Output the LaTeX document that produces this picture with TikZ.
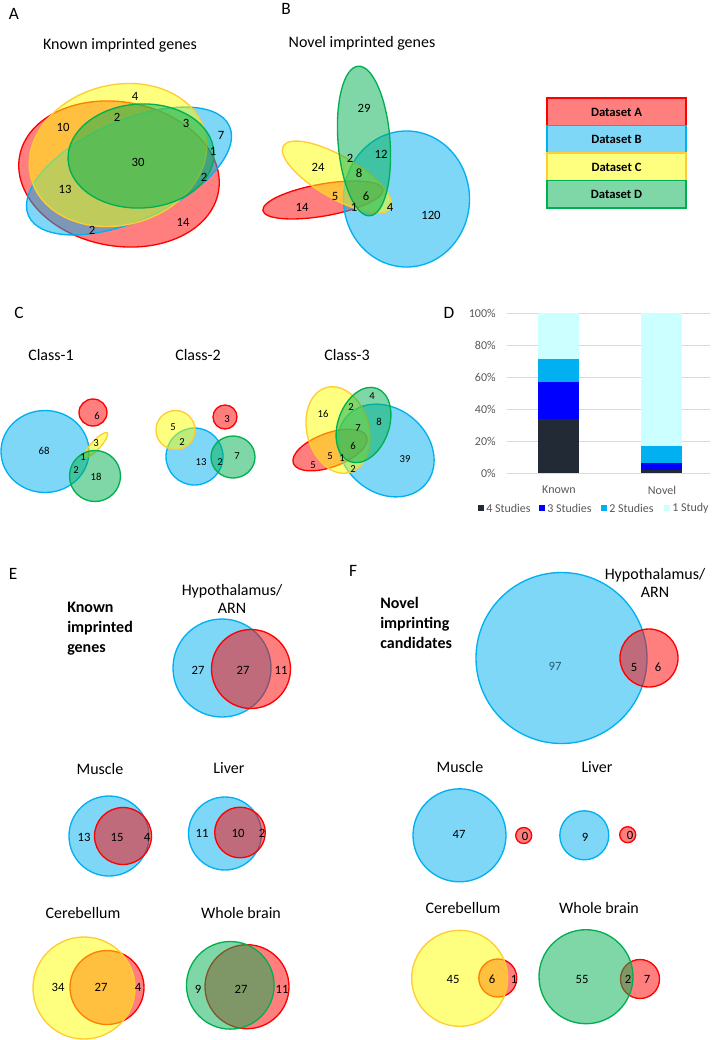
\documentclass[tikz,border=0pt]{standalone}
\usepackage{fontspec}
\setmainfont{Carlito}
\usepackage{tikz}

\definecolor{dsA}{RGB}{255,0,0}
\definecolor{dsB}{RGB}{0,176,240}
\definecolor{dsC}{RGB}{255,255,0}
\definecolor{dsCline}{RGB}{255,204,51}
\definecolor{dsD}{RGB}{0,176,80}
\definecolor{stud4}{RGB}{34,42,53}
\definecolor{stud3}{RGB}{0,0,255}
\definecolor{stud2}{RGB}{0,176,240}
\definecolor{stud1}{RGB}{204,255,255}
\definecolor{axisgray}{RGB}{89,89,89}
\definecolor{gridgray}{RGB}{217,217,217}
\definecolor{numteal}{RGB}{40,90,110}

\begin{document}
\begin{tikzpicture}[x=0.75pt,y=0.75pt,yscale=-1,xscale=1,
  setA/.style={draw=dsA,fill=dsA,fill opacity=0.5,line width=1pt},
  setB/.style={draw=dsB,fill=dsB,fill opacity=0.5,line width=1pt},
  setC/.style={draw=dsCline,fill=dsC,fill opacity=0.5,line width=1pt},
  setD/.style={draw=dsD,fill=dsD,fill opacity=0.5,line width=1pt},
  panel/.style={font=\fontsize{13}{15}\selectfont,inner sep=0pt},
  ttl/.style={font=\fontsize{12}{13.5}\selectfont,inner sep=0pt,align=center},
  bigttl/.style={font=\bfseries\fontsize{12}{15}\selectfont,inner sep=0pt,align=left,anchor=west},
  num/.style={font=\fontsize{9.5}{11}\selectfont,inner sep=0pt},
  smallnum/.style={font=\fontsize{8}{9}\selectfont,inner sep=0pt},
  legtxt/.style={font=\bfseries\fontsize{9.5}{11}\selectfont,inner sep=0pt},
  axtxt/.style={font=\fontsize{9}{10}\selectfont,text=axisgray,inner sep=0pt}
]
\useasboundingbox (0,0) rectangle (713,1040);
\fill[white] (0,0) rectangle (713,1040);

% Panel letters
\node[panel] (lblA) at (14,14) {A};
\node[panel] (lblB) at (286,9) {B};
\node[panel] (lblC) at (19,313) {C};
\node[panel] (lblD) at (449,313) {D};
\node[panel] (lblE) at (13,574) {E};
\node[panel] (lblF) at (353,571) {F};

%%% A: known imprinted genes
\node[ttl] (ttlA) at (120,45) {Known imprinted genes};
%Shape: Ellipse
\draw[setA, rotate around={10:(119,174)}] (119,174) ellipse [x radius=101, y radius=72];
\draw[setB, rotate around={-24:(129,171)}] (129,171) ellipse [x radius=110, y radius=50];
\draw[setC, rotate around={-15:(118,155)}] (118,155) ellipse [x radius=90, y radius=70];
\draw[setD, rotate around={-3:(141,156)}] (141,156) ellipse [x radius=73, y radius=52];
% Text Node
\node[num] (a4) at (135,96) {4};
\node[num] (a10) at (63,127) {10};
\node[num] (a2t) at (117,117) {2};
\node[num] (a3) at (186,123) {3};
\node[num] (a7) at (221,135) {7};
\node[num] (a1) at (213,151) {1};
\node[num] (a30) at (138,162) {30};
\node[num] (a2r) at (204,177) {2};
\node[num] (a13) at (65,189) {13};
\node[num] (a14) at (183,222) {14};
\node[num] (a2b) at (92,230) {2};

%%% B: novel imprinted genes
\node[ttl] (ttlB) at (362,43) {Novel imprinted genes};
%Shape: Ellipse
\draw[setA, rotate around={-10:(323,200)}] (323,200) ellipse [x radius=61, y radius=16];
\draw[setB] (406.5,199) ellipse [x radius=63, y radius=68];
\draw[setC, rotate around={30:(337,177)}] (337,177) ellipse [x radius=62, y radius=21];
\draw[setD, rotate around={-4.5:(364,141)}] (364,141) ellipse [x radius=26, y radius=75];
% Text Node
\node[num] (b29) at (364,108) {29};
\node[num] (b24) at (318,167) {24};
\node[num] (b2) at (350,158) {2};
\node[num] (b12) at (381,154) {12};
\node[num] (b8) at (359,173) {8};
\node[num] (b5) at (335,196) {5};
\node[num] (b6) at (366,196) {6};
\node[num] (b1) at (354,207) {1};
\node[num] (b14) at (302,207) {14};
\node[num] (b4) at (390,207) {4};
\node[num] (b120) at (431,215) {120};

% legend boxes
\draw[setA] (547,98) rectangle (686,125.5);
\draw[setB] (547,125.5) rectangle (686,153);
\draw[setC] (547,153) rectangle (686,180.5);
\draw[setD] (547,180.5) rectangle (686,208);
\node[legtxt] (legA) at (616.5,112) {Dataset A};
\node[legtxt] (legB) at (616.5,139.5) {Dataset B};
\node[legtxt] (legC) at (616.5,167) {Dataset C};
\node[legtxt] (legD) at (616.5,194.5) {Dataset D};

%%% C: classes
\node[ttl] (cls1) at (51,355) {Class-1};
\node[ttl] (cls2) at (198,355) {Class-2};
\node[ttl] (cls3) at (347,355) {Class-3};
% Class-1
\draw[setB] (45,451.5) ellipse [x radius=44, y radius=41];
\draw[setA] (93,412.5) ellipse [x radius=14, y radius=13.5];
\draw[setC, rotate around={-47:(96,445)}] (96,445) ellipse [x radius=16.5, y radius=4.5];
\draw[setD] (95,476) circle [radius=25.5];
\node[smallnum] (c68) at (44,451) {68};
\node[smallnum] (c6) at (97,416) {6};
\node[smallnum] (c3) at (96,443) {3};
\node[smallnum] (c1) at (83,457) {1};
\node[smallnum] (c2) at (76,470) {2};
\node[smallnum] (c18) at (96,477) {18};
% Class-2
\draw[setB] (194.5,456.5) circle [radius=28.5];
\draw[setA] (225,417) circle [radius=12];
\draw[setC] (175.5,430) circle [radius=19.5];
\draw[setD] (233,457) ellipse [x radius=22, y radius=21];
\node[smallnum] (d5) at (173,427) {5};
\node[smallnum] (d2a) at (182,442) {2};
\node[smallnum] (d3) at (227,419) {3};
\node[smallnum] (d13) at (201,462) {13};
\node[smallnum] (d2b) at (220,462) {2};
\node[smallnum] (d7) at (237,456) {7};
% Class-3
\draw[setA, rotate around={-20:(330,450)}] (330,450) ellipse [x radius=39, y radius=17];
\draw[setB, rotate around={40:(386,450.5)}] (386,450.5) ellipse [x radius=52, y radius=42];
\draw[setC, rotate around={-15:(338,430)}] (338,430) ellipse [x radius=31, y radius=44];
\draw[setD, rotate around={20:(363.5,425)}] (363.5,425) ellipse [x radius=25.5, y radius=39];
\node[smallnum] (e16) at (323,414) {16};
\node[smallnum] (e2a) at (351,407) {2};
\node[smallnum] (e4) at (372,396) {4};
\node[smallnum] (e7) at (358,428) {7};
\node[smallnum] (e8) at (379,422) {8};
\node[smallnum] (e6) at (353,446) {6};
\node[smallnum] (e5a) at (330,456) {5};
\node[smallnum] (e1) at (342,458) {1};
\node[smallnum] (e5b) at (313,465) {5};
\node[smallnum] (e2b) at (353,469) {2};
\node[smallnum] (e39) at (405,459) {39};

%%% D: stacked bars
\foreach \p in {0,20,...,100}{
  \draw[gridgray, line width=0.6pt] (507,{473-1.6*\p}) -- (710,{473-1.6*\p});
  \node[axtxt, anchor=east] (tick\p) at (496,{473-1.6*\p}) {\p\%};
}
% Known
\fill[stud4] (538,473) rectangle (579,418.6);
\fill[stud3] (538,418.6) rectangle (579,381.8);
\fill[stud2] (538,381.8) rectangle (579,359.4);
\fill[stud1] (538,359.4) rectangle (579,313);
% Novel
\fill[stud4] (641,473) rectangle (682,469.8);
\fill[stud3] (641,469.8) rectangle (682,463.4);
\fill[stud2] (641,463.4) rectangle (682,445.8);
\fill[stud1] (641,445.8) rectangle (682,313);
\node[axtxt] (catK) at (559,490) {Known};
\node[axtxt] (catN) at (662,490) {Novel};
% legend
\fill[stud4] (478,505) rectangle (484,511);
\node[axtxt, anchor=west] (leg4) at (486,508) {4 Studies};
\fill[stud3] (539,505) rectangle (545,511);
\node[axtxt, anchor=west] (leg3) at (547,508) {3 Studies};
\fill[stud2] (601,505) rectangle (607,511);
\node[axtxt, anchor=west] (leg2) at (609,508) {2 Studies};
\fill[stud1] (664,505) rectangle (670,511);
\node[axtxt, anchor=west] (leg1) at (672,508) {1 Study};

%%% E: known imprinted genes per tissue
\node[bigttl] (ttlE) at (67,629) {Known\\imprinted\\genes};
\node[ttl] (hypE) at (232,599) {Hypothalamus/\\ARN};
\draw[setB] (222,668) circle [radius=49];
\draw[setA] (251,669) circle [radius=39.5];
\node[num] (eh27a) at (198,670) {27};
\node[num] (eh27b) at (243,670) {27};
\node[num] (eh11) at (281,670) {11};

\node[ttl] (musE) at (100,769) {Muscle};
\draw[setB] (109,836) circle [radius=40];
\draw[setA] (123,836) circle [radius=28.5];
\node[num] (em13) at (84,837) {13};
\node[num] (em15) at (117,837) {15};
\node[num] (em4) at (147,837) {4};

\node[ttl] (livE) at (229,768) {Liver};
\draw[setB] (225,833.5) circle [radius=36.5];
\draw[setA] (240,832.5) circle [radius=25.3];
\node[num] (el11) at (202,833) {11};
\node[num] (el10) at (238,833) {10};
\node[num] (el2) at (262,833) {2};

\node[ttl] (cerE) at (83,913) {Cerebellum};
\draw[setA] (107,987.5) circle [radius=37];
\draw[setC] (84,988) circle [radius=51];
\node[num] (ec34) at (58,987) {34};
\node[num] (ec27) at (101,987) {27};
\node[num] (ec4) at (138,987) {4};

\node[ttl] (whbE) at (241,913) {Whole brain};
\draw[setA] (247,986.7) circle [radius=42];
\draw[setD] (230.3,985.3) circle [radius=43.8];
\node[num] (ew9) at (198,989) {9};
\node[num] (ew27) at (241,989) {27};
\node[num] (ew11) at (282,989) {11};

%%% F: novel imprinting candidates per tissue
\node[bigttl] (ttlF) at (380,623) {Novel\\imprinting\\candidates};
\node[ttl] (hypF) at (655,582.5) {Hypothalamus/\\ARN};
\draw[setB] (561.5,658) circle [radius=85.5];
\draw[setA] (649,658) circle [radius=29];
\node[num, text=numteal] (fh97) at (555,666) {97};
\node[num] (fh5) at (634,667) {5};
\node[num] (fh6) at (658,667) {6};

\node[ttl] (musF) at (460,767) {Muscle};
\draw[setB] (459.5,835.3) circle [radius=46.5];
\draw[setA] (523.7,835.5) circle [radius=8];
\node[num] (fm47) at (459,834) {47};
\node[num] (fm0) at (525,836) {0};

\node[ttl] (livF) at (597,767) {Liver};
\draw[setB] (584.3,835.3) circle [radius=24.5];
\draw[setA] (627.7,834.7) circle [radius=8];
\node[num] (fl9) at (585,837) {9};
\node[num] (fl0) at (630,835) {0};

\node[ttl] (cerF) at (463,908) {Cerebellum};
\draw[setA] (497.8,978) circle [radius=19];
\draw[setC] (459.7,978.3) circle [radius=48];
\node[num] (fc45) at (453,979) {45};
\node[num] (fc6) at (492,979) {6};
\node[num] (fc1) at (514,979) {1};

\node[ttl] (whbF) at (599,908) {Whole brain};
\draw[setA] (640,979) circle [radius=19.5];
\draw[setD] (586,976.7) circle [radius=47];
\node[num] (fw55) at (582,979) {55};
\node[num] (fw2) at (628,979) {2};
\node[num] (fw7) at (647,979) {7};
\end{tikzpicture}
\end{document}
